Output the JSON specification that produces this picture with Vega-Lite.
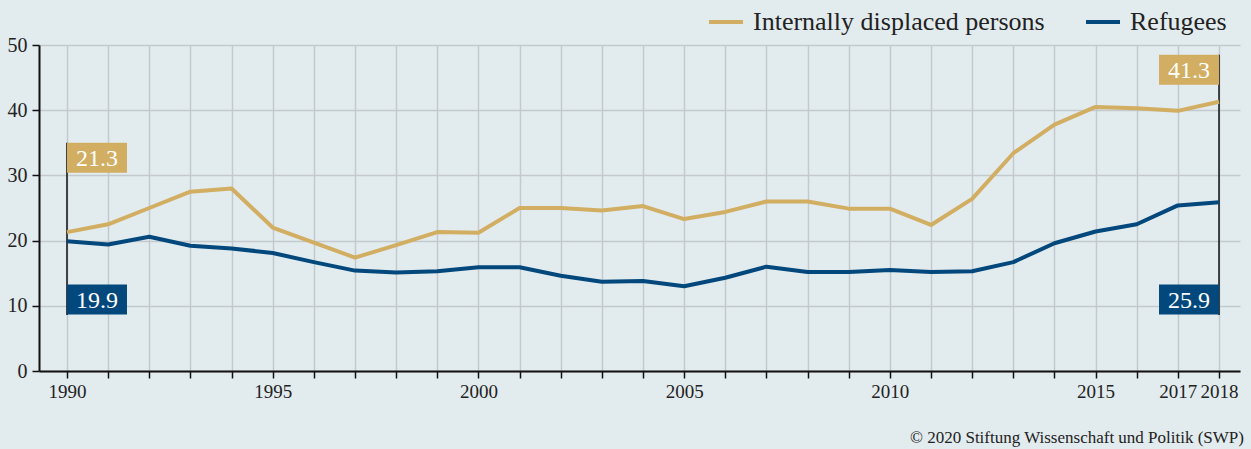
{
  "$schema": "https://vega.github.io/schema/vega-lite/v6.json",
  "width": 1201,
  "height": 326,
  "autosize": {"type": "none"},
  "padding": {"left": 39, "top": 45, "right": 11, "bottom": 78},
  "background": "#e2ebee",
  "title": {
    "text": "© 2020 Stiftung Wissenschaft und Politik (SWP)",
    "orient": "bottom",
    "anchor": "end",
    "frame": "group",
    "font": "Liberation Serif",
    "fontSize": 17,
    "fontWeight": "normal",
    "color": "#222222",
    "offset": 29,
    "dx": 4
  },
  "datasets": {
    "series": [
      {"year": 1990, "series": "Internally displaced persons", "value": 21.3},
      {"year": 1991, "series": "Internally displaced persons", "value": 22.5},
      {"year": 1992, "series": "Internally displaced persons", "value": 25.0},
      {"year": 1993, "series": "Internally displaced persons", "value": 27.5},
      {"year": 1994, "series": "Internally displaced persons", "value": 28.0},
      {"year": 1995, "series": "Internally displaced persons", "value": 22.0},
      {"year": 1996, "series": "Internally displaced persons", "value": 19.7},
      {"year": 1997, "series": "Internally displaced persons", "value": 17.4},
      {"year": 1998, "series": "Internally displaced persons", "value": 19.3},
      {"year": 1999, "series": "Internally displaced persons", "value": 21.3},
      {"year": 2000, "series": "Internally displaced persons", "value": 21.2},
      {"year": 2001, "series": "Internally displaced persons", "value": 25.0},
      {"year": 2002, "series": "Internally displaced persons", "value": 25.0},
      {"year": 2003, "series": "Internally displaced persons", "value": 24.6},
      {"year": 2004, "series": "Internally displaced persons", "value": 25.3},
      {"year": 2005, "series": "Internally displaced persons", "value": 23.3},
      {"year": 2006, "series": "Internally displaced persons", "value": 24.4},
      {"year": 2007, "series": "Internally displaced persons", "value": 26.0},
      {"year": 2008, "series": "Internally displaced persons", "value": 26.0},
      {"year": 2009, "series": "Internally displaced persons", "value": 24.9},
      {"year": 2010, "series": "Internally displaced persons", "value": 24.9},
      {"year": 2011, "series": "Internally displaced persons", "value": 22.4},
      {"year": 2012, "series": "Internally displaced persons", "value": 26.4},
      {"year": 2013, "series": "Internally displaced persons", "value": 33.4},
      {"year": 2014, "series": "Internally displaced persons", "value": 37.8},
      {"year": 2015, "series": "Internally displaced persons", "value": 40.5},
      {"year": 2016, "series": "Internally displaced persons", "value": 40.3},
      {"year": 2017, "series": "Internally displaced persons", "value": 39.9},
      {"year": 2018, "series": "Internally displaced persons", "value": 41.3},
      {"year": 1990, "series": "Refugees", "value": 19.9},
      {"year": 1991, "series": "Refugees", "value": 19.4},
      {"year": 1992, "series": "Refugees", "value": 20.6},
      {"year": 1993, "series": "Refugees", "value": 19.2},
      {"year": 1994, "series": "Refugees", "value": 18.8},
      {"year": 1995, "series": "Refugees", "value": 18.1},
      {"year": 1996, "series": "Refugees", "value": 16.7},
      {"year": 1997, "series": "Refugees", "value": 15.4},
      {"year": 1998, "series": "Refugees", "value": 15.1},
      {"year": 1999, "series": "Refugees", "value": 15.3},
      {"year": 2000, "series": "Refugees", "value": 15.9},
      {"year": 2001, "series": "Refugees", "value": 15.9},
      {"year": 2002, "series": "Refugees", "value": 14.6},
      {"year": 2003, "series": "Refugees", "value": 13.7},
      {"year": 2004, "series": "Refugees", "value": 13.8},
      {"year": 2005, "series": "Refugees", "value": 13.0},
      {"year": 2006, "series": "Refugees", "value": 14.3},
      {"year": 2007, "series": "Refugees", "value": 16.0},
      {"year": 2008, "series": "Refugees", "value": 15.2},
      {"year": 2009, "series": "Refugees", "value": 15.2},
      {"year": 2010, "series": "Refugees", "value": 15.5},
      {"year": 2011, "series": "Refugees", "value": 15.2},
      {"year": 2012, "series": "Refugees", "value": 15.3},
      {"year": 2013, "series": "Refugees", "value": 16.7},
      {"year": 2014, "series": "Refugees", "value": 19.6},
      {"year": 2015, "series": "Refugees", "value": 21.4},
      {"year": 2016, "series": "Refugees", "value": 22.5},
      {"year": 2017, "series": "Refugees", "value": 25.4},
      {"year": 2018, "series": "Refugees", "value": 25.9}
    ],
    "markers": [
      {"year": 1990, "top": 35.0, "bottom": 8.6},
      {"year": 2018, "top": 48.5, "bottom": 8.6}
    ],
    "labels": [
      {"year": 1990, "series": "Internally displaced persons", "label": "21.3", "pos": 32.7, "side": "left"},
      {"year": 1990, "series": "Refugees", "label": "19.9", "pos": 10.95, "side": "left"},
      {"year": 2018, "series": "Internally displaced persons", "label": "41.3", "pos": 46.2, "side": "right"},
      {"year": 2018, "series": "Refugees", "label": "25.9", "pos": 10.95, "side": "right"}
    ]
  },
  "layer": [
    {
      "data": {"name": "markers"},
      "mark": {"type": "rule", "color": "#111111", "strokeWidth": 1.5},
      "encoding": {
        "x": {"field": "year", "type": "quantitative"},
        "y": {"field": "top", "type": "quantitative"},
        "y2": {"field": "bottom"}
      }
    },
    {
      "data": {"name": "series"},
      "mark": {"type": "line", "strokeWidth": 4, "strokeJoin": "round"},
      "encoding": {
        "x": {
          "field": "year",
          "type": "quantitative",
          "scale": {"domain": [1989.32, 2018.51], "nice": false, "zero": false},
          "axis": {
            "title": null,
            "values": [1990, 1991, 1992, 1993, 1994, 1995, 1996, 1997, 1998, 1999, 2000, 2001, 2002, 2003, 2004, 2005, 2006, 2007, 2008, 2009, 2010, 2011, 2012, 2013, 2014, 2015, 2016, 2017, 2018],
            "labelExpr": "indexof([1990, 1995, 2000, 2005, 2010, 2015, 2017, 2018], datum.value) >= 0 ? datum.value : ''",
            "format": "d",
            "labelOverlap": false,
            "grid": true,
            "tickSize": 7
          }
        },
        "y": {
          "field": "value",
          "type": "quantitative",
          "scale": {"domain": [0, 50], "nice": false},
          "axis": {"title": null, "values": [0, 10, 20, 30, 40, 50], "grid": true, "tickSize": 7}
        },
        "color": {
          "field": "series",
          "type": "nominal",
          "scale": {
            "domain": ["Internally displaced persons", "Refugees"],
            "range": ["#d2ae62", "#03487c"]
          },
          "legend": {
            "title": null,
            "orient": "none",
            "direction": "horizontal",
            "legendX": 668,
            "legendY": -42,
            "symbolType": "stroke",
            "symbolSize": 1156,
            "symbolStrokeWidth": 4,
            "labelFont": "Liberation Serif",
            "labelFontSize": 26,
            "labelLimit": 600,
            "labelColor": "#222222",
            "labelOffset": 8,
            "columnPadding": 33
          }
        }
      }
    },
    {
      "data": {"name": "labels"},
      "transform": [{"filter": "datum.side == 'left'"}],
      "layer": [
        {
          "mark": {"type": "rect", "width": 60, "height": 30, "xOffset": 30},
          "encoding": {
            "x": {"field": "year", "type": "quantitative"},
            "y": {"field": "pos", "type": "quantitative"},
            "color": {"field": "series", "type": "nominal"}
          }
        },
        {
          "mark": {"type": "text", "xOffset": 30, "font": "Liberation Serif", "fontSize": 24, "color": "white", "baseline": "middle", "dy": 1},
          "encoding": {
            "x": {"field": "year", "type": "quantitative"},
            "y": {"field": "pos", "type": "quantitative"},
            "text": {"field": "label"}
          }
        }
      ]
    },
    {
      "data": {"name": "labels"},
      "transform": [{"filter": "datum.side == 'right'"}],
      "layer": [
        {
          "mark": {"type": "rect", "width": 60, "height": 30, "xOffset": -30},
          "encoding": {
            "x": {"field": "year", "type": "quantitative"},
            "y": {"field": "pos", "type": "quantitative"},
            "color": {"field": "series", "type": "nominal"}
          }
        },
        {
          "mark": {"type": "text", "xOffset": -30, "font": "Liberation Serif", "fontSize": 24, "color": "white", "baseline": "middle", "dy": 1},
          "encoding": {
            "x": {"field": "year", "type": "quantitative"},
            "y": {"field": "pos", "type": "quantitative"},
            "text": {"field": "label"}
          }
        }
      ]
    }
  ],
  "config": {
    "view": {"stroke": null},
    "axis": {
      "domainColor": "#111111",
      "domainWidth": 2,
      "tickColor": "#111111",
      "tickWidth": 1.5,
      "gridColor": "#c3c9cc",
      "gridWidth": 1.5,
      "labelFont": "Liberation Serif",
      "labelFontSize": 19,
      "labelColor": "#222222",
      "labelPadding": 4
    },
    "axisY": {"labelPadding": 5, "labelFontSize": 20}
  }
}
